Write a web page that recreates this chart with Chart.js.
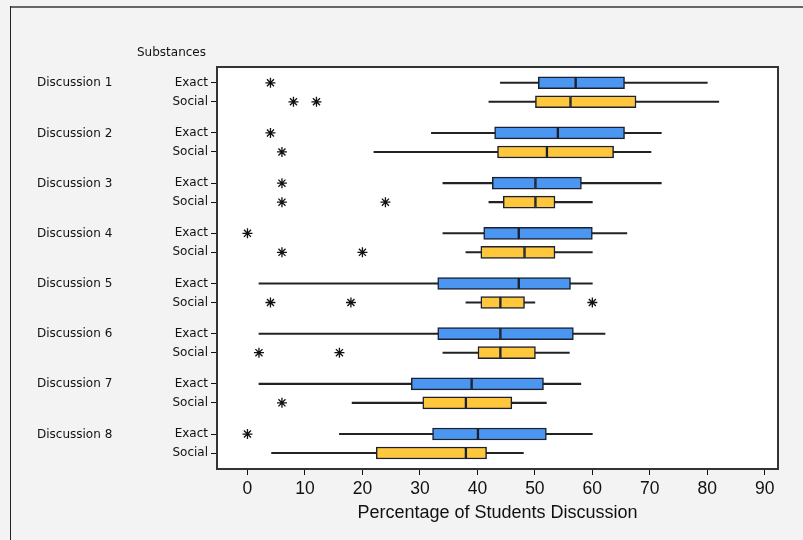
<!DOCTYPE html>
<html>
<head>
<meta charset="utf-8">
<script src="https://cdn.jsdelivr.net/npm/chart.js@4.4.1/dist/chart.umd.min.js"></script>
<style>
  html, body { margin: 0; padding: 0; background: #f3f3f3; }
  canvas { display: block; }
</style>
</head>
<body>
<canvas id="boxChart" width="803" height="540"></canvas>
<script>
// =========================
// DATA
// =========================
const discussions = ["Discussion 1", "Discussion 2", "Discussion 3", "Discussion 4",
                     "Discussion 5", "Discussion 6", "Discussion 7", "Discussion 8"];
const substances = ["Exact", "Social"];

// five-number summaries, one value per discussion
const exactMin    = [44, 32, 34, 34, 2, 2, 2, 16];
const exactQ1     = [50.6, 43, 42.6, 41.1, 33.1, 33.1, 28.5, 32.2];
const exactMedian = [57.1, 54, 50.1, 47.2, 47.2, 44, 39, 40.1];
const exactQ3     = [65.6, 65.6, 58.1, 60, 56.2, 56.7, 51.5, 52];
const exactMax    = [80, 72, 72, 66, 60, 62.2, 58, 60];

const socialMin    = [42, 22, 42, 38, 38, 34, 18.2, 4.2];
const socialQ1     = [50.1, 43.5, 44.5, 40.6, 40.6, 40.1, 30.5, 22.4];
const socialMedian = [56.2, 52.1, 50.1, 48.2, 44, 44, 38, 38];
const socialQ3     = [67.6, 63.7, 53.5, 53.5, 48.2, 50.1, 46, 41.6];
const socialMax    = [82, 70.2, 60, 60, 50, 56, 52, 48];

// outliers (asterisks)
const exactOutliers  = [[4], [4], [6], [0], [], [], [], [0]];
const socialOutliers = [[8, 12], [6], [6, 24], [6, 20], [4, 18, 60], [2, 16], [6], []];

const xTicks = [0, 10, 20, 30, 40, 50, 60, 70, 80, 90];

// =========================
// ROW POSITIONS
// =========================
const GROUP_STEP = 2.64;
const exactPos = discussions.map((d, g) => g * GROUP_STEP);
const socialPos = discussions.map((d, g) => g * GROUP_STEP + 1);
const rowPos = discussions.flatMap((d, g) => [exactPos[g], socialPos[g]]);
const rowLabels = discussions.flatMap(() => substances);

const BLUE = "#4a96f0";
const YELLOW = "#ffc83c";
const EDGE = "#1c2030";

function range(pos, lo, hi) {
    return pos.map((p, i) => ({ y: p, x: [lo[i], hi[i]] }));
}

function boxPart(pos, lo, hi, color) {
    return {
        type: "bar",
        data: range(pos, lo, hi),
        backgroundColor: color,
        borderColor: EDGE,
        borderWidth: 1.5,
        borderSkipped: false,
        barThickness: 12,
        grouped: false,
        order: 1
    };
}

const outlierPoints = [];
exactOutliers.forEach((list, g) => list.forEach(v => outlierPoints.push({ x: v, y: exactPos[g] })));
socialOutliers.forEach((list, g) => list.forEach(v => outlierPoints.push({ x: v, y: socialPos[g] })));

// =========================
// FRAME + SIDE LABELS
// =========================
const framePlugin = {
    id: "frame",
    beforeDraw(chart) {
        const { ctx, chartArea: a } = chart;
        ctx.save();
        ctx.fillStyle = "#f3f3f3";
        ctx.fillRect(0, 0, chart.width, chart.height);
        ctx.fillStyle = "#ffffff";
        ctx.fillRect(a.left, a.top, a.right - a.left, a.bottom - a.top);

        ctx.strokeStyle = "#666";
        ctx.lineWidth = 2;
        ctx.beginPath();
        ctx.moveTo(10, 7);
        ctx.lineTo(chart.width, 7);
        ctx.stroke();

        ctx.strokeStyle = "#222";
        ctx.lineWidth = 1;
        ctx.beginPath();
        ctx.moveTo(10.5, 6);
        ctx.lineTo(10.5, chart.height);
        ctx.stroke();
        ctx.restore();
    },
    afterDraw(chart) {
        const { ctx, chartArea: a } = chart;
        const yScale = chart.scales.y;
        ctx.save();
        ctx.strokeStyle = "#333";
        ctx.lineWidth = 2;
        ctx.strokeRect(a.left, a.top, a.right - a.left, a.bottom - a.top);

        ctx.fillStyle = "#111";
        ctx.font = "12px 'DejaVu Sans'";
        ctx.textAlign = "left";
        ctx.textBaseline = "middle";
        discussions.forEach((name, g) => {
            ctx.fillText(name, 37, yScale.getPixelForValue(exactPos[g]) + 0.5);
        });
        ctx.fillText("Substances", 137, 52.5);
        ctx.restore();
    }
};

// =========================
// CHART
// =========================
const ctx = document.getElementById("boxChart").getContext("2d");

new Chart(ctx, {
    type: "bar",
    data: {
        datasets: [
            {
                type: "scatter",
                data: outlierPoints,
                pointStyle: "star",
                radius: 5,
                borderColor: "#111",
                borderWidth: 1.3,
                order: 0
            },
            boxPart(exactPos, exactQ1, exactMedian, BLUE),
            boxPart(exactPos, exactMedian, exactQ3, BLUE),
            boxPart(socialPos, socialQ1, socialMedian, YELLOW),
            boxPart(socialPos, socialMedian, socialQ3, YELLOW),
            {
                type: "bar",
                data: range(exactPos, exactMin, exactMax).concat(range(socialPos, socialMin, socialMax)),
                backgroundColor: "#222",
                barThickness: 1.4,
                grouped: false,
                order: 2
            }
        ]
    },
    plugins: [framePlugin],
    options: {
        indexAxis: "y",
        responsive: false,
        animation: false,
        devicePixelRatio: 1,
        layout: { padding: { top: 67, right: 25, left: 0, bottom: 0 } },
        plugins: {
            legend: { display: false },
            tooltip: { enabled: false }
        },
        scales: {
            x: {
                type: "linear",
                min: -5.3,
                max: 92.3,
                afterBuildTicks: (scale) => { scale.ticks = xTicks.map(v => ({ value: v })); },
                afterFit: (scale) => { scale.height = 71; },
                grid: { drawOnChartArea: false, drawTicks: true, tickLength: 6, color: "#111", offset: false },
                border: { display: true, color: "#111", width: 1.5 },
                ticks: {
                    color: "#111",
                    padding: 4,
                    maxRotation: 0,
                    font: { family: "Liberation Sans", size: 17.5 }
                },
                title: {
                    display: true,
                    text: "Percentage of Students Discussion",
                    color: "#111",
                    padding: { top: 0, bottom: 16 },
                    font: { family: "Liberation Sans", size: 18 }
                }
            },
            y: {
                type: "linear",
                reverse: true,
                offset: false,
                min: -0.83,
                max: 7 * GROUP_STEP + 1 + 0.84,
                afterBuildTicks: (scale) => { scale.ticks = rowPos.map(v => ({ value: v })); },
                afterFit: (scale) => { scale.width = 217; },
                grid: { drawOnChartArea: false, drawTicks: true, tickLength: 6, color: "#111", offset: false },
                border: { display: true, color: "#111", width: 1.5 },
                ticks: {
                    color: "#111",
                    padding: 3,
                    autoSkip: false,
                    font: { family: "DejaVu Sans", size: 12 },
                    callback: (value, index) => rowLabels[index]
                }
            }
        }
    }
});
</script>
</body>
</html>
